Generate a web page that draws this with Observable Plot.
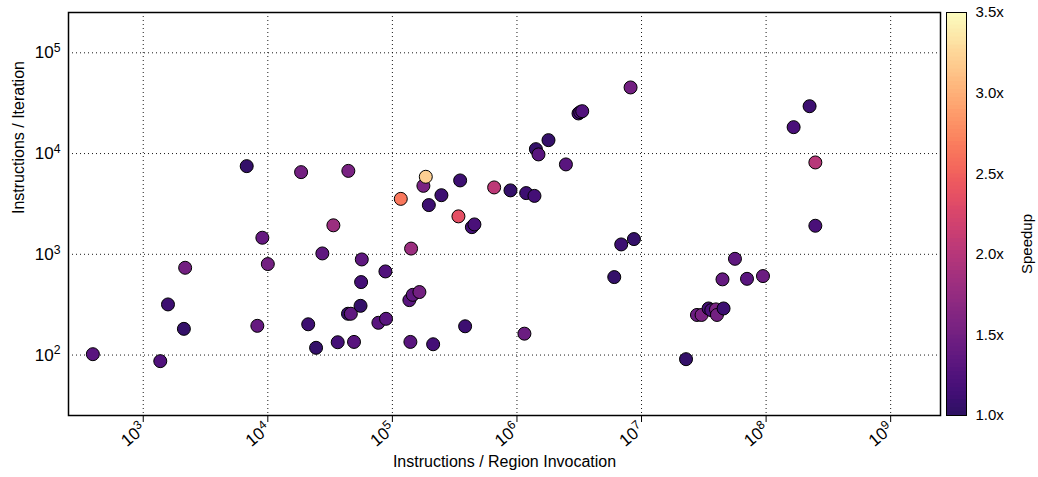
<!DOCTYPE html>
<html><head><meta charset="utf-8">
<script src="https://cdn.jsdelivr.net/npm/d3@7"></script>
<script src="https://cdn.jsdelivr.net/npm/@observablehq/plot@0.6"></script>
<style>
body{margin:0;background:#fff;}
#wrap{position:relative;width:1038px;height:477px;font-family:"Liberation Sans",Arial,sans-serif;}
#wrap svg{position:absolute;left:0;top:0;}
</style></head><body><div id="wrap"></div>
<script>
// Instructions per region invocation (x)
const instrPerInvocation = [394, 1370, 1580, 2120, 2170, 6770, 8240, 9040, 10000, 18500, 21100, 24400, 27400, 33600, 36400, 44300, 44000, 46400, 49200, 56800, 56100, 55500, 77200, 88900, 87900, 116800, 136900, 145800, 164800, 139500, 141300, 177400, 185400, 196100, 247500, 212400, 349900, 339000, 383600, 434600, 455600, 656000, 887000, 1186000, 1382000, 1148000, 1419000, 1489000, 1791000, 2472000, 3119000, 3220000, 3342000, 8166000, 6040000, 6870000, 8690000, 22760000, 27860000, 30340000, 34520000, 36300000, 39600000, 40320000, 45560000, 44650000, 56240000, 70260000, 94400000, 166300000, 223400000, 248500000, 248500000];
// Instructions per iteration (y)
const instrPerIteration = [102, 87, 318, 182, 735, 7500, 195, 1460, 800, 6540, 202, 118, 1020, 1940, 134, 6730, 257, 257, 135, 889, 530, 308, 209, 229, 676, 3550, 351, 396, 422, 135, 1140, 4780, 5880, 3080, 3860, 128, 5410, 2380, 193, 1860, 1980, 4610, 4310, 4050, 3800, 163, 11060, 9800, 13590, 7800, 25000, 25770, 26340, 45300, 594, 1253, 1416, 91, 250, 250, 290, 279, 284, 250, 290, 564, 902, 571, 608, 18280, 29500, 8160, 1920];
// Speedup (colour)
const speedup = [1.30, 1.25, 1.10, 1.05, 1.50, 1.05, 1.40, 1.40, 1.50, 1.50, 1.10, 1.05, 1.35, 1.80, 1.15, 1.55, 1.05, 1.35, 1.30, 1.35, 1.15, 1.05, 1.30, 1.30, 1.25, 2.65, 1.30, 1.35, 1.50, 1.30, 1.80, 1.55, 3.20, 1.10, 1.10, 1.15, 1.10, 2.35, 1.10, 1.15, 1.20, 2.05, 1.05, 1.10, 1.15, 1.45, 1.05, 1.30, 1.05, 1.30, 1.15, 1.20, 1.25, 1.50, 1.05, 1.10, 1.05, 1.05, 1.45, 1.55, 1.15, 1.20, 1.55, 1.50, 1.10, 1.40, 1.35, 1.30, 1.45, 1.20, 1.10, 2.00, 1.20];

const xTickValues = [1e3, 1e4, 1e5, 1e6, 1e7, 1e8, 1e9];
const yTickValues = [1e2, 1e3, 1e4, 1e5];
const speedupTicks = [1.0, 1.5, 2.0, 2.5, 3.0, 3.5];
const rampStops = d3.range(1, 3.5, 0.025);

const data = instrPerInvocation.map((x, i) => ({x, y: instrPerIteration[i], s: speedup[i]}));
const powFmt = d => "10^" + Math.round(Math.log10(d));
const colorOpts = {type: "linear", domain: [1, 3.5], interpolate: t => d3.interpolateMagma(0.17 + 0.83 * t)};
const FS = 15, TFS = 17, LFS = 16;

const main = Plot.plot({
  width: 1038, height: 477,
  marginLeft: 68, marginRight: 98, marginTop: 12, marginBottom: 62,
  style: {fontFamily: '"Liberation Sans", Arial, sans-serif', fontSize: FS + "px", background: "white", color: "black"},
  x: {type: "log", domain: [10 ** 2.4, 10 ** 9.4]},
  y: {type: "log", domain: [10 ** 1.4, 10 ** 5.4]},
  color: colorOpts,
  marks: [
    Plot.gridX(xTickValues, {stroke: "black", strokeOpacity: 0.9, strokeDasharray: "1,3"}),
    Plot.gridY(yTickValues, {stroke: "black", strokeOpacity: 0.9, strokeDasharray: "1,3"}),
    Plot.axisX(xTickValues, {tickFormat: powFmt, tickRotate: -40, tickSize: 7, tickPadding: 4, label: null, fontSize: TFS}),
    Plot.axisY(yTickValues, {tickFormat: powFmt, tickSize: 0, tickPadding: 8, label: null, fontSize: TFS}),
    Plot.dot(data, {x: "x", y: "y", fill: "s", r: 6.5, stroke: "black", strokeWidth: 1}),
    Plot.frame({stroke: "black", strokeWidth: 1.5}),
    Plot.text(["Instructions / Iteration"], {text: d => d, frameAnchor: "left", dx: -50, rotate: -90, fontSize: LFS}),
    Plot.text(["Instructions / Region Invocation"], {text: d => d, frameAnchor: "bottom", dy: 51, fontSize: LFS})
  ]
});

const bar = Plot.plot({
  width: 1038, height: 477,
  marginLeft: 946, marginRight: 72, marginTop: 12, marginBottom: 62,
  style: {fontFamily: '"Liberation Sans", Arial, sans-serif', fontSize: FS + "px", background: "transparent", color: "black"},
  x: {domain: [0, 1], axis: null},
  y: {domain: [1, 3.5], axis: null},
  color: colorOpts,
  marks: [
    Plot.rect(rampStops, {x1: 0, x2: 1, y1: d => d, y2: d => d + 0.025, fill: d => d + 0.0125, shapeRendering: "crispEdges", stroke: d => d + 0.0125, strokeWidth: 0.5}),
    Plot.frame({stroke: "black", strokeWidth: 1}),
    Plot.axisY(speedupTicks, {anchor: "right", tickSize: 0, tickPadding: 9, tickFormat: d => d.toFixed(1) + "x", label: null, fontSize: FS}),
    Plot.text(["Speedup"], {text: d => d, frameAnchor: "right", dx: 61, rotate: -90, fontSize: FS})
  ]
});

const wrap = document.getElementById("wrap");
wrap.appendChild(main);
wrap.appendChild(bar);

// render 10^n tick labels with a raised exponent
const ns = "http://www.w3.org/2000/svg";
main.querySelectorAll("text").forEach(t => {
  const m = t.textContent.match(/^10\^(\d+)$/);
  if (m) {
    t.textContent = "10";
    const ts = document.createElementNS(ns, "tspan");
    ts.setAttribute("dy", "-0.5em");
    ts.setAttribute("font-size", "0.72em");
    ts.textContent = m[1];
    t.appendChild(ts);
  }
});
</script>
</body></html>
